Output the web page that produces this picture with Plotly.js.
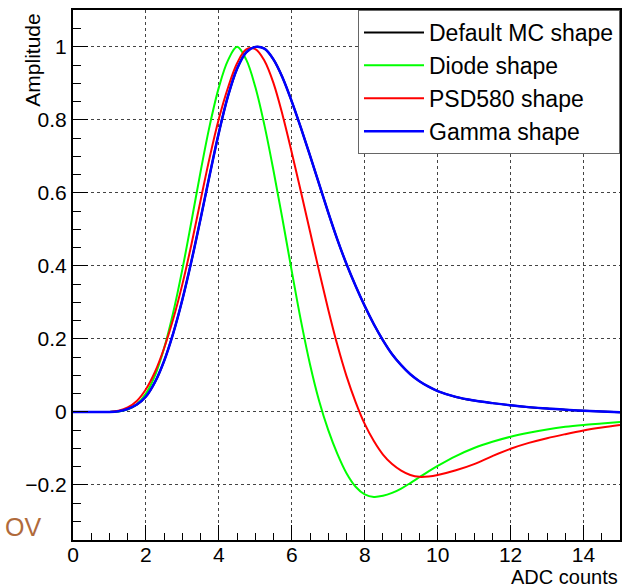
<!DOCTYPE html>
<html>
<head>
<meta charset="utf-8">
<script src="https://cdn.plot.ly/plotly-3.0.1.min.js"></script>
<style>html,body{margin:0;padding:0;background:#fff;}#chart{width:625px;height:587px;}</style>
</head>
<body>
<div id="chart"></div>
<script>
// Series names
const seriesNames = ["Default MC shape", "Diode shape", "PSD580 shape", "Gamma shape"];

// Sample positions (ADC counts)
const xSamples = [0, 0.5, 1, 1.25, 1.5, 1.75, 2, 2.25, 2.5, 2.75, 3, 3.25, 3.5, 3.75, 4, 4.25, 4.5, 4.75, 5, 5.25, 5.5, 5.75, 6, 6.25, 6.5, 6.75, 7, 7.25, 7.5, 7.75, 8, 8.25, 8.5, 8.75, 9, 9.25, 9.5, 9.75, 10, 10.5, 11, 11.5, 12, 12.5, 13, 13.5, 14, 14.5, 15];

// Default MC shape (drawn underneath; coincides with Gamma shape)
const mcY = [0, 0, 0, 0.002, 0.008, 0.02, 0.042, 0.082, 0.14, 0.216, 0.308, 0.414, 0.53, 0.65, 0.765, 0.865, 0.94, 0.985, 1.0, 0.995, 0.965, 0.915, 0.85, 0.778, 0.702, 0.624, 0.546, 0.472, 0.405, 0.345, 0.29, 0.24, 0.196, 0.158, 0.128, 0.103, 0.084, 0.069, 0.057, 0.041, 0.031, 0.024, 0.018, 0.013, 0.009, 0.006, 0.003, 0.001, -0.001];

// Diode shape
const diodeY = [0, 0, 0, 0.001, 0.007, 0.021, 0.05, 0.1, 0.175, 0.273, 0.391, 0.523, 0.659, 0.785, 0.889, 0.963, 1.0, 0.965, 0.89, 0.785, 0.66, 0.525, 0.385, 0.25, 0.13, 0.03, -0.05, -0.115, -0.168, -0.205, -0.226, -0.233, -0.23, -0.222, -0.21, -0.195, -0.179, -0.163, -0.148, -0.121, -0.099, -0.082, -0.068, -0.057, -0.048, -0.041, -0.036, -0.032, -0.028];

// PSD580 shape
const psdY = [0, 0, 0, 0.003, 0.012, 0.03, 0.062, 0.11, 0.175, 0.255, 0.35, 0.46, 0.58, 0.698, 0.803, 0.888, 0.955, 0.993, 0.994, 0.962, 0.9, 0.812, 0.71, 0.603, 0.494, 0.385, 0.28, 0.183, 0.098, 0.027, -0.033, -0.08, -0.117, -0.143, -0.161, -0.173, -0.178, -0.177, -0.173, -0.16, -0.143, -0.121, -0.101, -0.085, -0.072, -0.061, -0.051, -0.043, -0.036];

// Gamma shape
const gammaY = [0, 0, 0, 0.002, 0.008, 0.02, 0.042, 0.082, 0.14, 0.216, 0.308, 0.414, 0.53, 0.65, 0.765, 0.865, 0.94, 0.985, 1.0, 0.995, 0.965, 0.915, 0.85, 0.778, 0.702, 0.624, 0.546, 0.472, 0.405, 0.345, 0.29, 0.24, 0.196, 0.158, 0.128, 0.103, 0.084, 0.069, 0.057, 0.041, 0.031, 0.024, 0.018, 0.013, 0.009, 0.006, 0.003, 0.001, -0.001];

const xTitle = "ADC counts";
const yTitle = "Amplitude";
const cornerLabel = "OV";

const colors = ["#000000", "#00ff00", "#ff0000", "#0000ff"];
const widths = [2, 2, 2, 2.5];
const ys = [mcY, diodeY, psdY, gammaY];

const traces = seriesNames.map((n, i) => ({
  x: xSamples, y: ys[i], name: n, type: "scatter", mode: "lines",
  line: {color: colors[i], width: widths[i], shape: "spline", smoothing: 1},
  legendgroup: "g" + i
}));

const font = "Liberation Sans, Arial, Helvetica, sans-serif";
const layout = {
  width: 625, height: 587,
  margin: {l: 73, r: 5, t: 10, b: 47, pad: 0},
  paper_bgcolor: "#fff", plot_bgcolor: "#fff",
  font: {family: font, color: "#000", size: 21},
  showlegend: true,
  legend: {
    x: 1, xanchor: "right", y: 1, yanchor: "top",
    bgcolor: "#fff", bordercolor: "#666", borderwidth: 1,
    font: {family: font, size: 23, color: "#000"},
    traceorder: "grouped", tracegroupgap: 0, itemwidth: 60
  },
  xaxis: {
    range: [0, 15], dtick: 2, tick0: 0,
    ticks: "inside", ticklen: 15, tickwidth: 1, tickcolor: "#000",
    minor: {dtick: 0.5, ticks: "inside", ticklen: 7, tickcolor: "#000", showgrid: false},
    showgrid: true, gridcolor: "#444", griddash: "dot", gridwidth: 1,
    showline: true, linecolor: "#000", linewidth: 2, mirror: true,
    zeroline: false, tickfont: {size: 21}, ticklabelstandoff: -5
  },
  yaxis: {
    range: [-0.351, 1.101], dtick: 0.2, tick0: 0,
    ticks: "inside", ticklen: 15, tickwidth: 1, tickcolor: "#000",
    minor: {dtick: 0.05, ticks: "inside", ticklen: 8, tickcolor: "#000", showgrid: false},
    showgrid: true, gridcolor: "#444", griddash: "dot", gridwidth: 1,
    showline: true, linecolor: "#000", linewidth: 2, mirror: true,
    zeroline: false, tickfont: {size: 21}
  },
  annotations: [
    {text: xTitle, xref: "paper", yref: "paper", x: 1, y: -0.07, xanchor: "right", yanchor: "middle",
     showarrow: false, font: {size: 20}},
    {text: yTitle, xref: "paper", yref: "paper", x: -0.073, y: 0.996, xanchor: "center", yanchor: "top",
     textangle: -90, showarrow: false, font: {size: 21}},
    {text: cornerLabel, xref: "paper", yref: "paper", x: -0.128, y: 0.0245, xanchor: "left", yanchor: "middle",
     showarrow: false, font: {size: 25, color: "#b06a3b"}}
  ]
};

Plotly.newPlot("chart", traces, layout, {displayModeBar: false, staticPlot: true});
</script>
</body>
</html>
